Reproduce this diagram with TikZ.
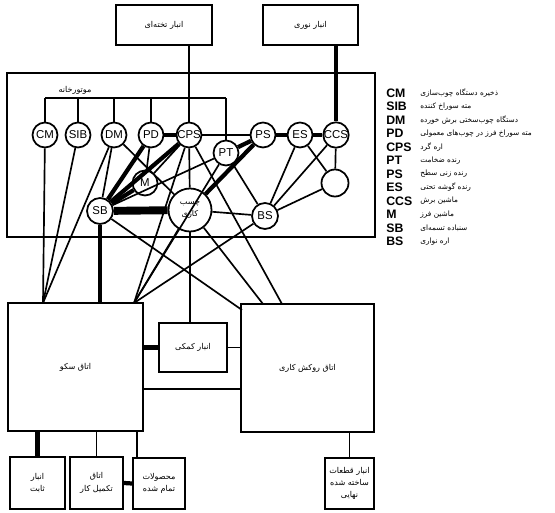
\documentclass[tikz,border=0pt]{standalone}
\usepackage{fontspec}
\setmainfont{Liberation Sans}
\newfontfamily\fa[Script=Arabic]{DejaVu Sans}
\TeXXeTstate=1
\usetikzlibrary{calc}

\tikzset{
  mach/.style={draw, circle, line width=1pt, inner sep=0pt, minimum size=0.5cm,
               font=\fontsize{6.5}{7}\selectfont, fill=white},
  room/.style={draw, line width=1.2pt, inner sep=1pt, align=center,
               font=\fa\fontsize{4.6}{7}\selectfont},
  wire/.style={line width=0.95pt},
  heavy/.style={line width=2.4pt},
  xheavy/.style={line width=4.5pt},
  abbr/.style={anchor=west, inner sep=0pt, font=\bfseries\fontsize{7}{7}\selectfont},
  desc/.style={anchor=west, inner sep=0pt, font=\fa\fontsize{4.2}{5}\selectfont}
}

\begin{document}
\begin{tikzpicture}[x=0.02cm, y=-0.02cm]
\useasboundingbox (0,0) rectangle (555,513);

% ================================================================
% Stores on top and the engine-room frame
% ================================================================
\node[room, minimum width=1.92cm, minimum height=0.8cm] (tbl) at (164,25)
  {\beginR انبار تخته‌ای\endR};
\node[room, minimum width=1.9cm, minimum height=0.8cm] (roll) at (310.5,25)
  {\beginR انبار نوری\endR};

\draw[line width=1.2pt] (7,73) rectangle (375,237);
\node[font=\fa\fontsize{4.6}{6}\selectfont] (engine) at (75,90)
  {\beginR موتورخانه\endR};

% ================================================================
% Machines
% ================================================================
\node[mach] (CM)  at (45,135)  {CM};
\node[mach] (SIB) at (78,135)  {SIB};
\node[mach] (DM)  at (114,135) {DM};
\node[mach] (PD)  at (151,135) {PD};
\node[mach] (CPS) at (189,135) {CPS};
\node[mach] (PT)  at (226,153) {PT};
\node[mach] (PS)  at (263,135) {PS};
\node[mach] (ES)  at (300,135) {ES};
\node[mach] (CCS) at (336,135) {CCS};
\node[mach] (M)   at (145,183) {M};
\node[mach, minimum size=0.52cm] (SB) at (100,211) {SB};
\node[mach, minimum size=0.52cm] (BS) at (265,216) {BS};
\node[mach, minimum size=0.54cm] (spare) at (335,183) {};
\node[mach, minimum size=0.86cm, align=center,
      font=\fa\fontsize{4.6}{7}\selectfont] (glue) at (190,210)
  {\beginR چسب\endR\\\beginR کاری\endR};

% ================================================================
% Rooms and small stores below
% ================================================================
\node[room, minimum width=2.7cm, minimum height=2.56cm] (sako) at (75.5,367)
  {\beginR اتاق سکو\endR};
\node[room, minimum width=2.66cm, minimum height=2.56cm] (coat) at (307.5,368)
  {\beginR اتاق روکش کاری\endR};
\node[room, minimum width=1.36cm, minimum height=0.98cm] (aux) at (193,347.5)
  {\beginR انبار کمکی\endR};

\node[room, minimum width=1.1cm, minimum height=1.04cm] (b1) at (37.5,483)
  {\beginR انبار\endR\\\beginR ثابت\endR};
\node[room, minimum width=1.06cm, minimum height=1.04cm] (b2) at (96.5,483)
  {\beginR اتاق\endR\\\beginR تکمیل کار\endR};
\node[room, minimum width=1.04cm, minimum height=1.02cm] (b3) at (159,483.5)
  {\beginR محصولات\endR\\\beginR تمام شده\endR};
\node[room, minimum width=0.98cm, minimum height=1.02cm] (b4) at (349.5,483.5)
  {\beginR انبار قطعات\endR\\\beginR ساخته شده\endR\\\beginR نهایی\endR};

% ================================================================
% Feeder bus from the board store
% ================================================================
\coordinate (busL) at (45,98);
\coordinate (busR) at (226,98);
\draw[wire] (busL) -- (busR);
\draw[wire] (tbl.south -| CPS) -- (CPS |- busL);
\foreach \m in {CM,SIB,DM,PD,CPS,PT}
  \draw[wire] (\m) -- (\m |- busL);
\draw[heavy] (roll.south -| CCS) -- (CCS);

% ================================================================
% Links between machines
% ================================================================
\draw[heavy] (PD) -- (CPS);
\draw[wire] (CPS.east) -- (PS.west);
\draw[heavy] (PT) -- (PS);
\draw[heavy] (PS) -- (ES);
\draw[heavy] (ES) -- (CCS);
\draw[wire] (CCS) -- (spare);
\draw[wire] (ES) -- (spare);
\draw[wire] (ES) -- (BS);
\draw[wire] (CCS) -- (BS);
\draw[wire] (spare) -- (BS);
\draw[wire] (PT) -- (BS);
\draw[wire] (PT) -- (SB);
\draw[heavy] (PS) -- (glue);
\draw[wire] (CPS) -- (glue);
\draw[wire] (CPS) -- (M);
\draw[heavy] (CPS) -- (SB);
\draw[heavy] (PD) -- (SB);
\draw[wire] (PD) -- (M);
\draw[heavy] (M) -- (SB);
\draw[wire] (DM) -- (SB);
\draw[wire] (DM) -- (glue);
\draw[xheavy] (SB) -- (glue);
\draw[wire] (glue) -- (BS);

% ================================================================
% Links down to the rooms
% ================================================================
\coordinate (sakoA) at (43,303);
\coordinate (sakoB) at (134,303);
\coordinate (coatA) at (242,310);
\coordinate (coatB) at (263,304);
\coordinate (coatC) at (282,304);

\draw[wire] (CM) -- (sakoA);
\draw[wire] (SIB) -- (sakoA);
\draw[wire] (DM) -- (sakoA);
\draw[heavy] (SB) -- (SB |- sako.north);
\draw[wire] (SB) -- (coatA);
\draw[wire] (glue) -- (sakoB);
\draw[wire] (CPS) -- (sakoB);
\draw[wire] (PT) -- (sakoB);
\draw[wire] (BS) -- (sakoB);
\draw[wire] (glue) -- (glue |- aux.north);
\draw[wire] (glue) -- (coatB);
\draw[wire] (CPS) -- (coatC);

\draw[heavy] (aux.west) -- (aux.west -| sako.east);
\draw[wire] (aux.east) -- (aux.east -| coat.west);
\coordinate (lowlink) at (143,389);
\draw[wire] (lowlink) -- (lowlink -| coat.west);

\draw[heavy] (b1.north) -- (b1.north |- sako.south);
\draw[wire] (b2.north) -- (b2.north |- sako.south);
\coordinate (b3in) at ($(b3.north west)+(5,0)$);
\draw[wire] (b3in) -- (b3in |- sako.south);
\draw[heavy] (b2.east) -- (b3.west);
\draw[wire] (b4.north) -- (b4.north |- coat.south);

% ================================================================
% Legend
% ================================================================
\foreach \ab/\tx [count=\i from 0] in {
  CM/{ذخیره دستگاه چوب‌سازی},
  SIB/{مته سوراخ کننده},
  DM/{دستگاه چوب‌سختی برش خورده},
  PD/{مته سوراخ فرز در چوب‌های معمولی},
  CPS/{اره گرد},
  PT/{رنده ضخامت},
  PS/{رنده زنی سطح},
  ES/{رنده گوشه تحتی},
  CCS/{ماشین برش},
  M/{ماشین فرز},
  SB/{سنباده تسمه‌ای},
  BS/{اره نواری}}{
  \node[abbr] (lg\ab) at (386,{93+13.5*\i}) {\ab};
  \node[desc] (lt\ab) at (420,{93+13.5*\i}) {\beginR\tx\endR};
}

\end{tikzpicture}
\end{document}
